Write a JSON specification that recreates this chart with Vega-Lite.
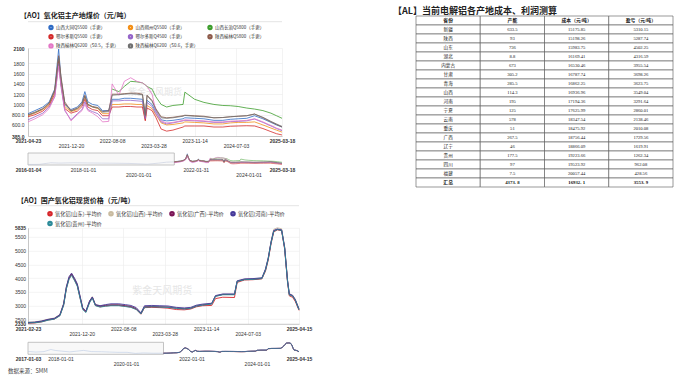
{
"$schema": "https://vega.github.io/schema/vega-lite/v6.json",
"background": "white",
"padding": {"left": 8, "top": 6, "right": 0, "bottom": 0},
"config": {
  "view": {"stroke": null},
  "font": "Noto Sans CJK SC",
  "axis": {"labelFont": "Liberation Sans", "labelColor": "#333", "labelFontSize": 5, "labelOverlap": false},
  "title": {"font": "Noto Sans CJK SC", "fontWeight": "bold", "color": "#222"}
},
"datasets": {
  "coalNames": [
    {"k": "A", "name": "山西大同Q5500（手更）"},
    {"k": "B", "name": "山西朔州Q5500（手更）"},
    {"k": "C", "name": "山西长治Q5800（手更）"},
    {"k": "D", "name": "鄂尔多斯Q5500（手更）"},
    {"k": "E", "name": "鄂尔多斯Q4500（手更）"},
    {"k": "F", "name": "陕西榆林Q5800（手更）"},
    {"k": "G", "name": "陕西榆林Q6200（S0.5，手更）"},
    {"k": "H", "name": "陕西榆林Q6200（S0.6，手更）"}
  ],
  "coal": [
    {"d":"2021-04-23","A":820,"B":780,"C":null,"D":760,"E":700,"F":800,"G":660,"H":790},
    {"d":"2021-06-01","A":880,"B":830,"C":null,"D":800,"E":760,"F":850,"G":720,"H":840},
    {"d":"2021-07-15","A":950,"B":900,"C":null,"D":870,"E":830,"F":920,"G":800,"H":910},
    {"d":"2021-08-20","A":1050,"B":1000,"C":null,"D":980,"E":950,"F":1030,"G":920,"H":1020},
    {"d":"2021-09-20","A":1300,"B":1250,"C":null,"D":1200,"E":1150,"F":1280,"G":1150,"H":1260},
    {"d":"2021-10-12","A":2080,"B":1900,"C":null,"D":1850,"E":1800,"F":1950,"G":1750,"H":1920},
    {"d":"2021-10-25","A":1500,"B":1450,"C":null,"D":1400,"E":1350,"F":1550,"G":1400,"H":1500},
    {"d":"2021-11-15","A":1000,"B":960,"C":null,"D":920,"E":880,"F":1050,"G":900,"H":1020},
    {"d":"2021-12-20","A":900,"B":860,"C":null,"D":830,"E":700,"F":880,"G":680,"H":870},
    {"d":"2022-01-25","A":950,"B":900,"C":null,"D":870,"E":820,"F":930,"G":800,"H":920},
    {"d":"2022-02-20","A":1050,"B":1000,"C":null,"D":960,"E":900,"F":1020,"G":880,"H":1000},
    {"d":"2022-03-08","A":1250,"B":1150,"C":null,"D":1100,"E":1050,"F":1180,"G":1000,"H":1160},
    {"d":"2022-03-25","A":1050,"B":1000,"C":null,"D":950,"E":900,"F":1000,"G":880,"H":990},
    {"d":"2022-04-20","A":1000,"B":950,"C":null,"D":900,"E":860,"F":960,"G":830,"H":950},
    {"d":"2022-05-20","A":980,"B":920,"C":null,"D":880,"E":820,"F":940,"G":760,"H":930},
    {"d":"2022-06-15","A":880,"B":820,"C":null,"D":780,"E":720,"F":860,"G":660,"H":850},
    {"d":"2022-07-20","A":880,"B":820,"C":null,"D":780,"E":720,"F":880,"G":670,"H":860},
    {"d":"2022-08-08","A":1100,"B":1000,"C":1300,"D":950,"E":1070,"F":1200,"G":1400,"H":1180},
    {"d":"2022-09-15","A":1100,"B":1000,"C":1250,"D":950,"E":1070,"F":1200,"G":1180,"H":1190},
    {"d":"2022-10-15","A":1120,"B":1010,"C":1350,"D":960,"E":1080,"F":1210,"G":1450,"H":1200},
    {"d":"2022-11-20","A":1120,"B":1010,"C":1450,"D":960,"E":1080,"F":1220,"G":1520,"H":1210},
    {"d":"2022-12-25","A":1110,"B":1000,"C":1440,"D":950,"E":1070,"F":1220,"G":1450,"H":1200},
    {"d":"2023-01-25","A":1100,"B":1000,"C":1420,"D":950,"E":1060,"F":1200,"G":1420,"H":1190},
    {"d":"2023-02-10","A":750,"B":700,"C":1380,"D":680,"E":720,"F":800,"G":1380,"H":780},
    {"d":"2023-02-20","A":1080,"B":980,"C":1350,"D":930,"E":1040,"F":1180,"G":1350,"H":1170},
    {"d":"2023-03-20","A":1000,"B":920,"C":1300,"D":880,"E":960,"F":1080,"G":1200,"H":1060},
    {"d":"2023-04-10","A":860,"B":800,"C":1150,"D":750,"E":820,"F":920,"G":880,"H":900},
    {"d":"2023-05-10","A":700,"B":640,"C":1000,"D":520,"E":660,"F":760,"G":680,"H":740},
    {"d":"2023-06-10","A":680,"B":600,"C":950,"D":480,"E":620,"F":740,"G":640,"H":730},
    {"d":"2023-07-15","A":690,"B":610,"C":980,"D":500,"E":640,"F":750,"G":650,"H":740},
    {"d":"2023-09-10","A":720,"B":640,"C":1000,"D":560,"E":680,"F":780,"G":690,"H":770},
    {"d":"2023-09-20","A":740,"B":660,"C":1240,"D":580,"E":690,"F":790,"G":700,"H":785},
    {"d":"2023-11-14","A":730,"B":650,"C":1100,"D":580,"E":680,"F":780,"G":690,"H":770},
    {"d":"2024-01-05","A":720,"B":640,"C":1040,"D":580,"E":670,"F":770,"G":680,"H":760},
    {"d":"2024-03-01","A":690,"B":620,"C":1000,"D":560,"E":650,"F":740,"G":660,"H":740},
    {"d":"2024-04-20","A":690,"B":620,"C":980,"D":560,"E":650,"F":745,"G":660,"H":745},
    {"d":"2024-06-01","A":710,"B":640,"C":975,"D":575,"E":665,"F":760,"G":675,"H":760},
    {"d":"2024-07-15","A":720,"B":650,"C":960,"D":580,"E":670,"F":770,"G":680,"H":770},
    {"d":"2024-09-01","A":730,"B":650,"C":930,"D":585,"E":680,"F":780,"G":690,"H":780},
    {"d":"2024-10-15","A":780,"B":660,"C":910,"D":580,"E":716,"F":814,"G":720,"H":810},
    {"d":"2024-12-01","A":720,"B":600,"C":880,"D":530,"E":650,"F":740,"G":660,"H":750},
    {"d":"2025-01-15","A":650,"B":540,"C":830,"D":470,"E":580,"F":660,"G":590,"H":670},
    {"d":"2025-02-15","A":600,"B":500,"C":780,"D":430,"E":530,"F":610,"G":540,"H":620},
    {"d":"2025-03-18","A":560,"B":460,"C":730,"D":405,"E":488,"F":560,"G":500,"H":570}
  ],
  "coalEarly": [
    {"d":"2016-01-04","v":380},{"d":"2016-06-01","v":400},{"d":"2016-11-01","v":650},
    {"d":"2017-03-01","v":600},{"d":"2017-09-01","v":650},{"d":"2018-03-01","v":620},
    {"d":"2018-09-01","v":600},{"d":"2019-03-01","v":580},{"d":"2019-09-01","v":550},
    {"d":"2020-05-01","v":430},{"d":"2020-10-01","v":600},{"d":"2021-01-10","v":750},
    {"d":"2021-04-23","v":790}
  ],
  "aluNames": [
    {"k": "sd", "name": "氧化铝(山东)-平均价"},
    {"k": "sx", "name": "氧化铝(山西)-平均价"},
    {"k": "gx", "name": "氧化铝(广西)-平均价"},
    {"k": "hn", "name": "氧化铝(河南)-平均价"},
    {"k": "gz", "name": "氧化铝(贵州)-平均价"}
  ],
  "alu": [
    {"d":"2021-02-23","sd":2350,"sx":2390,"gx":2370,"hn":2380,"gz":2360},
    {"d":"2021-04-01","sd":2360,"sx":2400,"gx":2380,"hn":2390,"gz":2370},
    {"d":"2021-05-10","sd":2400,"sx":2440,"gx":2420,"hn":2430,"gz":2400},
    {"d":"2021-06-15","sd":2470,"sx":2500,"gx":2480,"hn":2490,"gz":2460},
    {"d":"2021-07-20","sd":2500,"sx":2540,"gx":2520,"hn":2530,"gz":2500},
    {"d":"2021-08-20","sd":2630,"sx":2670,"gx":2650,"hn":2660,"gz":2620},
    {"d":"2021-09-10","sd":3020,"sx":3080,"gx":3050,"hn":3060,"gz":3000},
    {"d":"2021-09-25","sd":3620,"sx":3680,"gx":3650,"hn":3680,"gz":3600},
    {"d":"2021-10-10","sd":3980,"sx":4030,"gx":4000,"hn":4050,"gz":3950},
    {"d":"2021-10-24","sd":4120,"sx":4170,"gx":4150,"hn":4180,"gz":4100},
    {"d":"2021-11-10","sd":3930,"sx":3980,"gx":3950,"hn":3990,"gz":3900},
    {"d":"2021-11-25","sd":3720,"sx":3780,"gx":3750,"hn":3790,"gz":3700},
    {"d":"2021-12-09","sd":3320,"sx":3380,"gx":3350,"hn":3380,"gz":3300},
    {"d":"2021-12-25","sd":2880,"sx":2930,"gx":2900,"hn":2920,"gz":2850},
    {"d":"2022-01-12","sd":2770,"sx":2800,"gx":2780,"hn":2790,"gz":2740},
    {"d":"2022-02-02","sd":3130,"sx":3170,"gx":3150,"hn":3170,"gz":3100},
    {"d":"2022-02-17","sd":3280,"sx":3320,"gx":3300,"hn":3310,"gz":3260},
    {"d":"2022-03-06","sd":3000,"sx":3040,"gx":3020,"hn":3030,"gz":2990},
    {"d":"2022-04-01","sd":2950,"sx":2990,"gx":2970,"hn":2990,"gz":2940},
    {"d":"2022-05-01","sd":2980,"sx":3010,"gx":3000,"hn":3030,"gz":2970},
    {"d":"2022-06-01","sd":3000,"sx":3030,"gx":3020,"hn":3060,"gz":2990},
    {"d":"2022-07-15","sd":3000,"sx":3030,"gx":3020,"hn":3060,"gz":2990},
    {"d":"2022-08-20","sd":2970,"sx":3000,"gx":2990,"hn":3030,"gz":2960},
    {"d":"2022-09-20","sd":2940,"sx":2970,"gx":2960,"hn":3000,"gz":2930},
    {"d":"2022-10-20","sd":2860,"sx":2890,"gx":2880,"hn":2920,"gz":2850},
    {"d":"2022-11-15","sd":2680,"sx":2720,"gx":2700,"hn":2730,"gz":2690},
    {"d":"2022-12-05","sd":2920,"sx":2960,"gx":2950,"hn":2990,"gz":2930},
    {"d":"2023-01-15","sd":2930,"sx":2970,"gx":2960,"hn":3000,"gz":2950},
    {"d":"2023-03-01","sd":2920,"sx":2960,"gx":2950,"hn":2990,"gz":2940},
    {"d":"2023-04-15","sd":2900,"sx":2950,"gx":2940,"hn":2980,"gz":2930},
    {"d":"2023-06-01","sd":2850,"sx":2910,"gx":2900,"hn":2930,"gz":2890},
    {"d":"2023-07-15","sd":2840,"sx":2890,"gx":2880,"hn":2910,"gz":2870},
    {"d":"2023-08-20","sd":2870,"sx":2910,"gx":2900,"hn":2930,"gz":2890},
    {"d":"2023-09-20","sd":2950,"sx":2990,"gx":2980,"hn":3010,"gz":2970},
    {"d":"2023-10-25","sd":2990,"sx":3030,"gx":3020,"hn":3050,"gz":3010},
    {"d":"2023-12-15","sd":3000,"sx":3070,"gx":3060,"hn":3080,"gz":3050},
    {"d":"2024-01-05","sd":3250,"sx":3350,"gx":3340,"hn":3360,"gz":3330},
    {"d":"2024-02-15","sd":3300,"sx":3410,"gx":3400,"hn":3420,"gz":3390},
    {"d":"2024-04-20","sd":3290,"sx":3410,"gx":3400,"hn":3420,"gz":3390},
    {"d":"2024-05-05","sd":3840,"sx":3890,"gx":3880,"hn":3900,"gz":3870},
    {"d":"2024-06-15","sd":3930,"sx":3960,"gx":3950,"hn":3970,"gz":3940},
    {"d":"2024-08-01","sd":3940,"sx":3970,"gx":3960,"hn":3980,"gz":3950},
    {"d":"2024-09-20","sd":3970,"sx":4000,"gx":3990,"hn":4010,"gz":3980},
    {"d":"2024-10-10","sd":4250,"sx":4320,"gx":4300,"hn":4330,"gz":4280},
    {"d":"2024-10-25","sd":4650,"sx":4720,"gx":4700,"hn":4730,"gz":4680},
    {"d":"2024-11-10","sd":5250,"sx":5330,"gx":5300,"hn":5320,"gz":5280},
    {"d":"2024-11-25","sd":5680,"sx":5780,"gx":5720,"hn":5740,"gz":5700},
    {"d":"2024-12-15","sd":5760,"sx":5835,"gx":5780,"hn":5790,"gz":5770},
    {"d":"2025-01-08","sd":5730,"sx":5800,"gx":5750,"hn":5760,"gz":5740},
    {"d":"2025-01-25","sd":5050,"sx":5150,"gx":5100,"hn":5120,"gz":5080},
    {"d":"2025-02-10","sd":3850,"sx":3950,"gx":3900,"hn":3920,"gz":3880},
    {"d":"2025-02-20","sd":3350,"sx":3430,"gx":3400,"hn":3420,"gz":3380},
    {"d":"2025-03-10","sd":3300,"sx":3380,"gx":3350,"hn":3370,"gz":3340},
    {"d":"2025-03-25","sd":3150,"sx":3230,"gx":3200,"hn":3220,"gz":3190},
    {"d":"2025-04-15","sd":2820,"sx":2880,"gx":2850,"hn":2870,"gz":2840}
  ],
  "aluEarly": [
    {"d":"2017-01-03","v":2950},{"d":"2017-04-01","v":2750},{"d":"2017-07-01","v":2900},
    {"d":"2017-09-15","v":3600},{"d":"2017-11-01","v":3300},{"d":"2018-01-15","v":3050},
    {"d":"2018-04-15","v":2800},{"d":"2018-07-01","v":3050},{"d":"2018-09-15","v":3300},
    {"d":"2018-12-15","v":2900},{"d":"2019-04-01","v":2850},{"d":"2019-07-01","v":2750},
    {"d":"2019-10-15","v":2650},{"d":"2020-01-15","v":2650},{"d":"2020-04-15","v":2300},
    {"d":"2020-07-15","v":2450},{"d":"2020-11-01","v":2350},{"d":"2021-02-23","v":2370}
  ],
  "table": [
    {"i":0,"省份":"省份","产能":"产能","成本（元/吨）":"成本（元/吨）","盈亏（元/吨）":"盈亏（元/吨）"},
    {"i":1,"省份":"新疆","产能":"633.5","成本（元/吨）":"15175.85","盈亏（元/吨）":"5310.15"},
    {"i":2,"省份":"陕西","产能":"93","成本（元/吨）":"15198.26","盈亏（元/吨）":"5287.74"},
    {"i":3,"省份":"山东","产能":"736","成本（元/吨）":"15983.75","盈亏（元/吨）":"4502.25"},
    {"i":4,"省份":"湖北","产能":"8.8","成本（元/吨）":"16169.41","盈亏（元/吨）":"4316.59"},
    {"i":5,"省份":"内蒙古","产能":"673","成本（元/吨）":"16530.46","盈亏（元/吨）":"3955.54"},
    {"i":6,"省份":"甘肃","产能":"305.2","成本（元/吨）":"16787.74","盈亏（元/吨）":"3698.26"},
    {"i":7,"省份":"青海","产能":"285.5","成本（元/吨）":"16862.25","盈亏（元/吨）":"3623.75"},
    {"i":8,"省份":"山西","产能":"114.3","成本（元/吨）":"16936.96","盈亏（元/吨）":"3549.04"},
    {"i":9,"省份":"河南","产能":"195","成本（元/吨）":"17194.36","盈亏（元/吨）":"3291.64"},
    {"i":10,"省份":"宁夏","产能":"125","成本（元/吨）":"17625.99","盈亏（元/吨）":"2860.01"},
    {"i":11,"省份":"云南","产能":"578","成本（元/吨）":"18347.54","盈亏（元/吨）":"2138.46"},
    {"i":12,"省份":"重庆","产能":"51","成本（元/吨）":"18475.92","盈亏（元/吨）":"2010.08"},
    {"i":13,"省份":"广西","产能":"267.5","成本（元/吨）":"18756.44","盈亏（元/吨）":"1729.56"},
    {"i":14,"省份":"辽宁","产能":"46","成本（元/吨）":"18866.09","盈亏（元/吨）":"1619.91"},
    {"i":15,"省份":"贵州","产能":"177.5","成本（元/吨）":"19223.66","盈亏（元/吨）":"1262.34"},
    {"i":16,"省份":"四川","产能":"97","成本（元/吨）":"19523.92","盈亏（元/吨）":"962.08"},
    {"i":17,"省份":"福建","产能":"7.5","成本（元/吨）":"20057.44","盈亏（元/吨）":"428.56"},
    {"i":18,"省份":"汇总","产能":"4373. 8","成本（元/吨）":"16932. 1","盈亏（元/吨）":"3553. 9"}
  ]
},
"hconcat": [
  {
    "vconcat": [
      {
        "vconcat": [
          {
            "width": 254, "height": 5.7,
            "title": {"text": "【AO】氧化铝主产地煤价（元/吨）", "anchor": "start", "frame": "group", "dx": -8, "offset": -2.5, "fontSize": 7},
            "data": {"values": [{"b": 0}]},
            "mark": {"type": "rule", "color": "#dcdcdc", "strokeWidth": 0.8},
            "encoding": {"y": {"field": "b", "type": "quantitative", "scale": {"domain": [0, 1]}, "axis": null}}
          },
          {
            "vconcat": [
              {
                "width": 254, "height": 88,
                "layer": [
                  {
                    "data": {"values": [{"t": "紫金天风期货"}]},
                    "mark": {"type": "text", "fontSize": 9, "color": "#e6e6e6", "font": "Noto Sans CJK SC"},
                    "encoding": {
                      "text": {"field": "t", "type": "nominal"}
                    }
                  },
                  {
                    "data": {"name": "coal"},
                    "transform": [
                      {"fold": ["A","B","C","D","E","F","G","H"], "as": ["k","v"]},
                      {"lookup": "k", "from": {"data": {"name": "coalNames"}, "key": "k", "fields": ["name"]}}
                    ],
                    "mark": {"type": "line", "strokeWidth": 0.8},
                    "encoding": {
                      "x": {"field": "d", "type": "temporal", "title": null,
                        "scale": {"type": "utc", "nice": false, "domain": [{"year":2021,"month":4,"date":23,"utc":true},{"year":2025,"month":3,"date":18,"utc":true}]},
                        "axis": {
                          "values": [{"year":2021,"month":4,"date":23,"utc":true},{"year":2021,"month":12,"date":20,"utc":true},{"year":2022,"month":8,"date":8,"utc":true},{"year":2023,"month":3,"date":28,"utc":true},{"year":2023,"month":11,"date":14,"utc":true},{"year":2024,"month":7,"date":3,"utc":true},{"year":2025,"month":3,"date":18,"utc":true}],
                          "labelExpr": "utcFormat(datum.value, '%Y-%m-%d')", "title": null,
                          "grid": true, "gridColor": "#ebebeb", "gridWidth": 0.6, "ticks": false,
                          "domainColor": "#aaa", "domainWidth": 0.6,
                          "labelPadding": 7.5, "labelOverlap": false, "labelBound": false, "labelFlush": false,
                          "labelBaseline": {"condition": {"test": "indexof(['2021-12-20','2023-03-28','2024-07-03'], utcFormat(datum.value,'%Y-%m-%d')) >= 0", "value": "top"}, "value": "bottom"},
                          "labelFontWeight": {"condition": {"test": "indexof(['2021-04-23','2025-03-18'], utcFormat(datum.value,'%Y-%m-%d')) >= 0", "value": "bold"}, "value": "normal"}
                        }
                      },
                      "y": {"field": "v", "type": "quantitative", "title": null,
                        "scale": {"domain": [385, 2100], "nice": false, "zero": false},
                        "axis": {
                          "values": [385, 600, 800, 1000, 1200, 1400, 1600, 1800, 2100], "title": null,
                          "labelExpr": "datum.value < 1000 ? format(datum.value, '.1f') : format(datum.value, 'd')",
                          "grid": true, "gridColor": "#ebebeb", "gridWidth": 0.6, "ticks": false,
                          "domainColor": "#aaa", "domainWidth": 0.6, "labelPadding": 4,
                          "labelFontSize": 5, "labelOverlap": false,
                          "labelFontWeight": {"condition": {"test": "datum.value == 385 || datum.value == 2100", "value": "bold"}, "value": "normal"}
                        }
                      },
                      "color": {"field": "name", "type": "nominal",
                        "scale": {"domain": ["山西大同Q5500（手更）","山西朔州Q5500（手更）","山西长治Q5800（手更）","鄂尔多斯Q5500（手更）","鄂尔多斯Q4500（手更）","陕西榆林Q5800（手更）","陕西榆林Q6200（S0.5，手更）","陕西榆林Q6200（S0.6，手更）"],
                                  "range": ["#2f6bc4","#f39019","#3c9d2c","#d42a2a","#9565c9","#8d5a4a","#e377c6","#707070"]},
                        "legend": {"orient": "none", "legendX": 20, "legendY": -23.5, "columns": 3, "direction": "horizontal", "title": null,
                          "symbolType": "circle", "symbolSize": 10, "symbolStrokeWidth": 2.2, "labelFontSize": 4.5, "labelOffset": 2,
                          "columnPadding": 5.5, "rowPadding": -2.8, "labelLimit": 300, "labelFont": "Noto Sans CJK SC", "labelColor": "#333"}
                      }
                    }
                  }
                ]
              },
              {
                "width": 254, "height": 12,
                "layer": [
                  {
                    "data": {"values": [{"s": "2016-01-04", "e": "2021-04-23"}]},
                    "mark": {"type": "rect", "fill": "#f8f8f8", "stroke": "#b5b5b5", "strokeWidth": 0.8},
                    "encoding": {
                      "x": {"field": "s", "type": "temporal", "title": null,
                        "scale": {"type": "utc", "nice": false, "domain": [{"year":2016,"month":1,"date":4,"utc":true},{"year":2025,"month":3,"date":18,"utc":true}]},
                        "axis": {
                          "values": [{"year":2016,"month":1,"date":4,"utc":true},{"year":2018,"month":1,"date":1,"utc":true},{"year":2020,"month":1,"date":1,"utc":true},{"year":2022,"month":1,"date":31,"utc":true},{"year":2024,"month":1,"date":1,"utc":true},{"year":2025,"month":3,"date":18,"utc":true}],
                          "labelExpr": "utcFormat(datum.value, '%Y-%m-%d')", "title": null,
                          "grid": false, "ticks": false, "domain": false,
                          "labelPadding": 7.5, "labelOverlap": false, "labelBound": false, "labelFlush": false,
                          "labelBaseline": {"condition": {"test": "indexof(['2020-01-01','2024-01-01'], utcFormat(datum.value,'%Y-%m-%d')) >= 0", "value": "top"}, "value": "bottom"},
                          "labelFontWeight": {"condition": {"test": "indexof(['2016-01-04','2025-03-18'], utcFormat(datum.value,'%Y-%m-%d')) >= 0", "value": "bold"}, "value": "normal"}
                        }
                      },
                      "x2": {"field": "e"}
                    }
                  },
                  {
                    "data": {"name": "coalEarly"},
                    "mark": {"type": "line", "color": "#c2cadc", "strokeWidth": 0.6},
                    "encoding": {
                      "x": {"field": "d", "type": "temporal", "title": null},
                      "y": {"field": "v", "type": "quantitative", "scale": {"domain": [300, 2200], "nice": false, "zero": false}, "axis": null}
                    }
                  },
                  {
                    "data": {"name": "coal"},
                    "transform": [
                      {"fold": ["A","B","C","D","E","F","G","H"], "as": ["k","v"]},
                      {"lookup": "k", "from": {"data": {"name": "coalNames"}, "key": "k", "fields": ["name"]}}
                    ],
                    "mark": {"type": "line", "strokeWidth": 0.5},
                    "encoding": {
                      "x": {"field": "d", "type": "temporal", "title": null},
                      "y": {"field": "v", "type": "quantitative"},
                      "color": {"field": "name", "type": "nominal", "legend": null,
                        "scale": {"domain": ["山西大同Q5500（手更）","山西朔州Q5500（手更）","山西长治Q5800（手更）","鄂尔多斯Q5500（手更）","鄂尔多斯Q4500（手更）","陕西榆林Q5800（手更）","陕西榆林Q6200（S0.5，手更）","陕西榆林Q6200（S0.6，手更）"],
                                  "range": ["#2f6bc4","#f39019","#3c9d2c","#d42a2a","#9565c9","#8d5a4a","#e377c6","#707070"]}}
                    }
                  }
                ]
              }
            ],
            "spacing": 3, "align": "each",
            "resolve": {"scale": {"color": "independent"}, "legend": {"color": "independent"}}
          }
        ],
        "spacing": 1, "align": "each",
        "resolve": {"scale": {"color": "independent"}, "legend": {"color": "independent"}}
      },
      {
        "vconcat": [
          {
            "width": 271, "height": 5.7,
            "title": {"text": "【AO】国产氧化铝现货价格（元/吨）", "anchor": "start", "frame": "group", "dx": -11, "offset": -3.5, "fontSize": 7},
            "data": {"values": [{"b": 0}]},
            "mark": {"type": "rule", "color": "#dcdcdc", "strokeWidth": 0.8},
            "encoding": {"y": {"field": "b", "type": "quantitative", "scale": {"domain": [0, 1]}, "axis": null}}
          },
          {
            "vconcat": [
              {
                "width": 271, "height": 96,
                "layer": [
                  {
                    "data": {"values": [{"t": "紫金天风期货", "x": "2023-03-14", "y": 3520}]},
                    "mark": {"type": "text", "fontSize": 10, "color": "#e6e6e6", "font": "Noto Sans CJK SC"},
                    "encoding": {
                      "text": {"field": "t", "type": "nominal"},
                      "x": {"field": "x", "type": "temporal", "title": null},
                      "y": {"field": "y", "type": "quantitative", "title": null,
                        "axis": {
                          "values": [2330, 2500, 3000, 3500, 4000, 4500, 5000, 5500, 5835], "title": null, "format": "d",
                          "grid": true, "gridColor": "#ebebeb", "gridWidth": 0.6, "ticks": false,
                          "domainColor": "#aaa", "domainWidth": 0.6, "labelPadding": 2.5,
                          "labelFontSize": 5, "labelOverlap": false,
                          "labelFontWeight": {"condition": {"test": "datum.value == 2330 || datum.value == 5835", "value": "bold"}, "value": "normal"}
                        }}
                    }
                  },
                  {
                    "data": {"name": "alu"},
                    "transform": [
                      {"fold": ["sd","sx","gx","hn","gz"], "as": ["k","v"]},
                      {"lookup": "k", "from": {"data": {"name": "aluNames"}, "key": "k", "fields": ["name"]}}
                    ],
                    "mark": {"type": "line", "strokeWidth": 0.9},
                    "encoding": {
                      "x": {"field": "d", "type": "temporal", "title": null,
                        "scale": {"type": "utc", "nice": false, "domain": [{"year":2021,"month":2,"date":23,"utc":true},{"year":2025,"month":4,"date":15,"utc":true}]},
                        "axis": {
                          "values": [{"year":2021,"month":2,"date":23,"utc":true},{"year":2021,"month":12,"date":20,"utc":true},{"year":2022,"month":8,"date":8,"utc":true},{"year":2023,"month":3,"date":28,"utc":true},{"year":2023,"month":11,"date":14,"utc":true},{"year":2024,"month":7,"date":3,"utc":true},{"year":2025,"month":4,"date":15,"utc":true}],
                          "labelExpr": "utcFormat(datum.value, '%Y-%m-%d')", "title": null,
                          "grid": true, "gridColor": "#ebebeb", "gridWidth": 0.6, "ticks": false,
                          "domainColor": "#aaa", "domainWidth": 0.6,
                          "labelPadding": 7.5, "labelOverlap": false, "labelBound": false, "labelFlush": false,
                          "labelBaseline": {"condition": {"test": "indexof(['2021-12-20','2023-03-28','2024-07-03'], utcFormat(datum.value,'%Y-%m-%d')) >= 0", "value": "top"}, "value": "bottom"},
                          "labelFontWeight": {"condition": {"test": "indexof(['2021-02-23','2025-04-15'], utcFormat(datum.value,'%Y-%m-%d')) >= 0", "value": "bold"}, "value": "normal"}
                        }
                      },
                      "y": {"field": "v", "type": "quantitative", "title": null,
                        "scale": {"domain": [2330, 5835], "nice": false, "zero": false},
                        "axis": {
                          "values": [2330, 2500, 3000, 3500, 4000, 4500, 5000, 5500, 5835], "title": null, "format": "d",
                          "grid": true, "gridColor": "#ebebeb", "gridWidth": 0.6, "ticks": false,
                          "domainColor": "#aaa", "domainWidth": 0.6, "labelPadding": 2.5,
                          "labelFontSize": 5, "labelOverlap": false,
                          "labelFontWeight": {"condition": {"test": "datum.value == 2330 || datum.value == 5835", "value": "bold"}, "value": "normal"}
                        }
                      },
                      "color": {"field": "name", "type": "nominal",
                        "scale": {"domain": ["氧化铝(山东)-平均价","氧化铝(山西)-平均价","氧化铝(广西)-平均价","氧化铝(河南)-平均价","氧化铝(贵州)-平均价"],
                                  "range": ["#d7262b","#c9bba0","#7a1456","#46399a","#2b8a98"]},
                        "legend": {"orient": "none", "legendX": 19, "legendY": -17.3, "columns": 4, "direction": "horizontal", "title": null,
                          "symbolType": "circle", "symbolSize": 10, "symbolStrokeWidth": 2.4, "labelFontSize": 5.2, "labelOffset": 2,
                          "columnPadding": 2, "rowPadding": -7.5, "labelLimit": 300, "labelFont": "Noto Sans CJK SC", "labelColor": "#333"}
                      }
                    }
                  }
                ]
              },
              {
                "width": 271, "height": 12,
                "title": {"text": "数据来源：SMM", "orient": "bottom", "anchor": "start", "frame": "group", "dx": -20, "offset": 3, "fontSize": 5.5, "fontWeight": "normal", "color": "#444"},
                "layer": [
                  {
                    "data": {"values": [{"s": "2017-01-03", "e": "2021-02-23"}]},
                    "mark": {"type": "rect", "fill": "#f8f8f8", "stroke": "#b5b5b5", "strokeWidth": 0.8},
                    "encoding": {
                      "x": {"field": "s", "type": "temporal", "title": null,
                        "scale": {"type": "utc", "nice": false, "domain": [{"year":2017,"month":1,"date":3,"utc":true},{"year":2025,"month":4,"date":15,"utc":true}]},
                        "axis": {
                          "values": [{"year":2017,"month":1,"date":3,"utc":true},{"year":2018,"month":1,"date":1,"utc":true},{"year":2020,"month":1,"date":1,"utc":true},{"year":2022,"month":1,"date":1,"utc":true},{"year":2024,"month":1,"date":1,"utc":true},{"year":2025,"month":4,"date":15,"utc":true}],
                          "labelExpr": "utcFormat(datum.value, '%Y-%m-%d')", "title": null,
                          "grid": false, "ticks": false, "domain": false,
                          "labelPadding": 7, "labelOverlap": false, "labelBound": false, "labelFlush": false,
                          "labelBaseline": {"condition": {"test": "indexof(['2020-01-01','2024-01-01'], utcFormat(datum.value,'%Y-%m-%d')) >= 0", "value": "top"}, "value": "bottom"},
                          "labelFontWeight": {"condition": {"test": "indexof(['2017-01-03','2025-04-15'], utcFormat(datum.value,'%Y-%m-%d')) >= 0", "value": "bold"}, "value": "normal"}
                        }
                      },
                      "x2": {"field": "e"}
                    }
                  },
                  {
                    "data": {"name": "aluEarly"},
                    "mark": {"type": "line", "color": "#bccbe4", "strokeWidth": 0.6},
                    "encoding": {
                      "x": {"field": "d", "type": "temporal", "title": null},
                      "y": {"field": "v", "type": "quantitative", "scale": {"domain": [2000, 6000], "nice": false, "zero": false}, "axis": null}
                    }
                  },
                  {
                    "data": {"name": "alu"},
                    "transform": [
                      {"fold": ["sd","sx","gx","hn","gz"], "as": ["k","v"]},
                      {"lookup": "k", "from": {"data": {"name": "aluNames"}, "key": "k", "fields": ["name"]}}
                    ],
                    "mark": {"type": "line", "strokeWidth": 0.6},
                    "encoding": {
                      "x": {"field": "d", "type": "temporal", "title": null},
                      "y": {"field": "v", "type": "quantitative"},
                      "color": {"field": "name", "type": "nominal", "legend": null,
                        "scale": {"domain": ["氧化铝(山东)-平均价","氧化铝(山西)-平均价","氧化铝(广西)-平均价","氧化铝(河南)-平均价","氧化铝(贵州)-平均价"],
                                  "range": ["#d7262b","#c9bba0","#7a1456","#46399a","#2b8a98"]}}
                    }
                  }
                ]
              }
            ],
            "spacing": 4.5, "align": "each",
            "resolve": {"scale": {"color": "independent"}, "legend": {"color": "independent"}}
          }
        ],
        "spacing": 2.8, "align": "each",
        "resolve": {"scale": {"color": "independent"}, "legend": {"color": "independent"}}
      }
    ],
    "spacing": 18, "align": "each",
    "resolve": {"scale": {"color": "independent"}, "legend": {"color": "independent"}}
  },
  {
    "width": 257, "height": 171,
    "title": {"text": "【AL】当前电解铝各产地成本、利润测算", "anchor": "start", "frame": "group", "dx": -23, "offset": 0, "fontSize": 9},
    "data": {"name": "table"},
    "transform": [{"fold": ["省份","产能","成本（元/吨）","盈亏（元/吨）"], "as": ["col","val"]}],
    "encoding": {
      "x": {"field": "col", "type": "nominal", "sort": ["省份","产能","成本（元/吨）","盈亏（元/吨）"], "scale": {"paddingInner": 0, "paddingOuter": 0}, "axis": null},
      "y": {"field": "i", "type": "ordinal", "scale": {"paddingInner": 0, "paddingOuter": 0}, "axis": null}
    },
    "layer": [
      {"mark": {"type": "rect", "fill": "white", "stroke": "#555", "strokeWidth": 0.6}},
      {"transform": [{"filter": "datum.i != 0 && datum.i != 18"}],
       "mark": {"type": "text", "fontSize": 4.6, "font": "Liberation Serif, Noto Sans CJK SC", "color": "#222"},
       "encoding": {"text": {"field": "val", "type": "nominal"}}},
      {"transform": [{"filter": "datum.i == 0 || datum.i == 18"}],
       "mark": {"type": "text", "fontSize": 4.8, "fontWeight": "bold", "font": "Liberation Serif, Noto Sans CJK SC", "color": "#111"},
       "encoding": {"text": {"field": "val", "type": "nominal"}}}
    ]
  }
],
"spacing": 81,
"resolve": {"scale": {"color": "independent"}, "legend": {"color": "independent"}}
}
